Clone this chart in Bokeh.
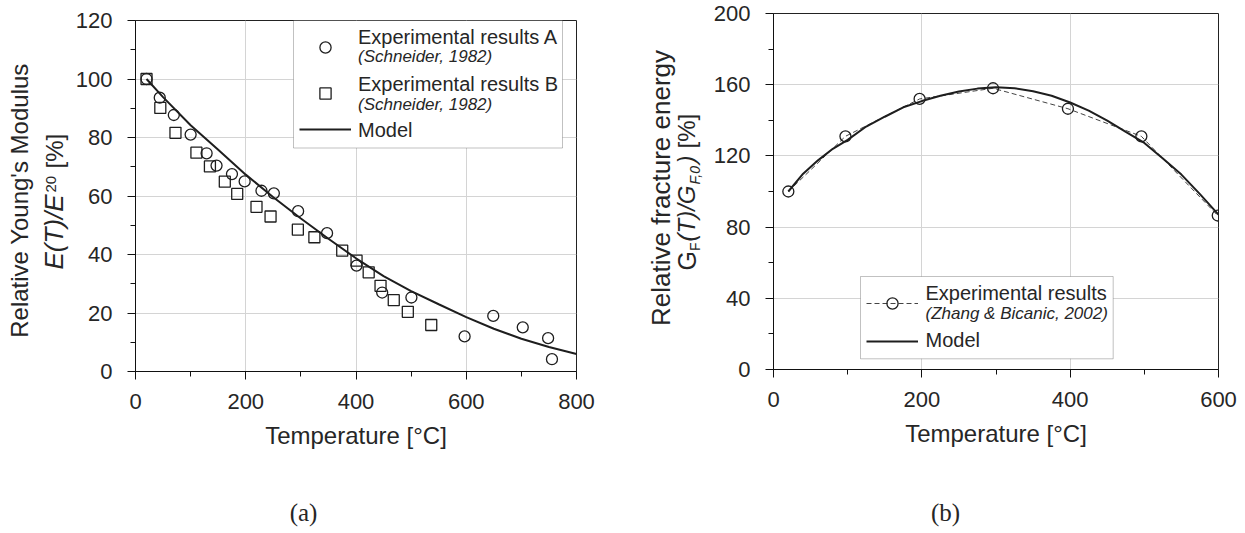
import numpy as np
from bokeh.plotting import figure
from bokeh.layouts import row, column
from bokeh.models import Range1d, FixedTicker, Label, Legend, LegendItem, BoxAnnotation
from bokeh.embed import file_html
from bokeh.resources import INLINE

# ---------------- data: panel (a) ----------------
a_exp_A_T = [20, 44, 69.5, 100, 129, 147, 175, 198, 228.5, 251, 295, 347.5, 401, 447.5, 500.5, 597, 649, 702.5, 748.5, 755.5]
a_exp_A_E = [100, 93.6, 87.7, 81.0, 74.6, 70.4, 67.5, 65.0, 61.8, 60.9, 54.8, 47.3, 36.2, 27.0, 25.3, 12.0, 19.0, 15.1, 11.4, 4.2]
a_exp_B_T = [20, 45, 72.5, 110.5, 135, 162, 184.5, 219.5, 245, 294.5, 324.5, 375, 401, 423, 444.5, 468.5, 494, 536.5]
a_exp_B_E = [100, 90.1, 81.6, 74.8, 70.1, 64.9, 60.7, 56.3, 53.0, 48.5, 45.9, 41.3, 37.9, 33.9, 29.3, 24.4, 20.4, 15.9]
a_model_T = [20, 50, 100, 150, 200, 250, 300, 350, 400, 450, 500, 550, 600, 650, 700, 750, 800]
a_model_E = [100, 93.8, 84.2, 75.8, 67.3, 59.6, 52.3, 45.4, 38.7, 32.6, 27.5, 23.0, 18.6, 14.6, 11.2, 8.4, 6.0]
a_xticks = [0, 200, 400, 600, 800]
a_xminor = [100, 300, 500, 700]
a_yticks = [0, 20, 40, 60, 80, 100, 120]
a_yminor = [10, 30, 50, 70, 90, 110]

# ---------------- data: panel (b) ----------------
b_exp_T = [20, 97, 197, 296, 397, 496, 599]
b_exp_G = [100, 131, 152, 158, 146.5, 131, 86.5]
b_model_T = [20, 40, 60, 80, 100, 125, 150, 175, 200, 225, 250, 275, 300, 325, 350,
             375, 400, 425, 450, 475, 500, 525, 550, 575, 600]
b_model_G = [100, 110.0, 117.5, 124.0, 129.0, 136.5, 142.0, 147.3, 150.8, 153.8, 156.2, 157.8, 158.5, 158.0, 156.3,
             153.8, 150.0, 145.4, 139.8, 133.5, 127.3, 118.5, 109.5, 98.5, 87.0]
b_xticks = [0, 200, 400, 600]
b_xminor = [100, 300, 500]
b_yticks = [0, 40, 80, 120, 160, 200]
b_yminor = [20, 60, 100, 140, 180]

FONT = "Liberation Sans"
TXT = "#262626"
LINE = "#1e1e1e"

H = 533          # page height
TOP_H = 480      # height of the plot row (captions below)
CAP_H = H - TOP_H

# panel (a): y-title holder width, plot width, borders
A_YW, A_PW, A_L, A_R, A_T = 72, 568, 63, 64, 20
# panel (b)
B_X0 = 640
B_YW, B_PW, B_L, B_R, B_T = 68, 537, 65, 27, 13
A_FB = 371   # frame bottom (page y) of (a)
B_FB = 369   # frame bottom (page y) of (b)
BASE = 0.42  # empirical baseline correction (fraction of font size)
GH = 28      # legend glyph box height


def make_fig(w, l, r, t, fb, xr, yr, xt, xm, yt, ym):
    p = figure(width=w, height=TOP_H, x_range=Range1d(*xr), y_range=Range1d(*yr),
               output_backend="svg", toolbar_location=None,
               min_border_left=l, min_border_right=r, min_border_top=t,
               min_border_bottom=TOP_H - fb)
    p.background_fill_color = "white"
    p.border_fill_color = "white"
    p.outline_line_color = "#222222"
    p.outline_line_width = 1
    p.xaxis.ticker = FixedTicker(ticks=xt, minor_ticks=xm)
    p.yaxis.ticker = FixedTicker(ticks=yt, minor_ticks=ym)
    for ax in (p.xaxis, p.yaxis):
        ax.axis_line_color = "#111111"
        ax.major_tick_line_color = "#111111"
        ax.minor_tick_line_color = "#111111"
        ax.major_tick_out = 8
        ax.major_tick_in = 0
        ax.minor_tick_out = 5
        ax.minor_tick_in = 0
        ax.major_label_text_font = FONT
        ax.major_label_text_font_size = "22px"
        ax.major_label_text_color = TXT
    p.xaxis.major_label_standoff = 14
    p.yaxis.major_label_standoff = 15
    p.xaxis.axis_label = "Temperature [°C]"
    p.xaxis.axis_label_text_font = FONT
    p.xaxis.axis_label_text_font_size = "24px"
    p.xaxis.axis_label_text_font_style = "normal"
    p.xaxis.axis_label_text_color = TXT
    p.xaxis.axis_label_standoff = 10
    p.xgrid.ticker = FixedTicker(ticks=xt)
    p.ygrid.ticker = FixedTicker(ticks=yt)
    p.grid.grid_line_color = "#d4d4d4"
    p.grid.grid_line_width = 1
    return p


def holder(w, h):
    f = figure(width=w, height=h, x_range=Range1d(0, 1), y_range=Range1d(0, 1),
               x_axis_type=None, y_axis_type=None, output_backend="svg",
               toolbar_location=None, min_border=0, min_border_left=0, min_border_right=0,
               min_border_top=0, min_border_bottom=0)
    f.outline_line_color = None
    f.background_fill_color = "white"
    f.border_fill_color = "white"
    return f


def lab(p, fx, fb, px, py, text, size, style="normal", align="left", rotated=False, font=FONT):
    """Label placed by page pixel position of its baseline; fx = frame left, fb = frame bottom."""
    c = BASE * size
    if rotated:
        x, y, ang = px - fx - c, fb - py, np.pi / 2
    else:
        x, y, ang = px - fx, fb - py + c, 0.0
    p.add_layout(Label(x=x, y=y, x_units="screen", y_units="screen", text=text,
                       text_font=font, text_font_size=f"{size}px", text_font_style=style,
                       text_color=TXT, text_align=align, text_baseline="alphabetic",
                       angle=ang))


def leg(p, fx, fb, px_start, py_center, renderers, gw=52):
    L = Legend(items=[LegendItem(label=" ", renderers=renderers)],
               location=(px_start - fx, fb - py_center - GH / 2), padding=0, margin=0, spacing=0,
               glyph_width=gw, glyph_height=GH, label_height=GH, label_width=1,
               label_standoff=0, label_text_font_size="2px",
               border_line_color=None, background_fill_alpha=0)
    p.add_layout(L)


# ================= panel (a) =================
pa = make_fig(A_PW, A_L, A_R, A_T, A_FB, (0, 800), (0, 120),
              a_xticks, a_xminor, a_yticks, a_yminor)
ra_model = pa.line(a_model_T, a_model_E, line_color=LINE, line_width=2)
ra_A = pa.scatter(a_exp_A_T, a_exp_A_E, marker="circle", size=11, fill_color=None,
                  line_color=LINE, line_width=1.3)
ra_B = pa.scatter(a_exp_B_T, a_exp_B_E, marker="square", size=11, fill_color=None,
                  line_color=LINE, line_width=1.3)

AFX = A_YW + A_L
pa.add_layout(BoxAnnotation(left=293 - AFX, right=562 - AFX, top=A_FB - 20, bottom=A_FB - 147.5,
                            left_units="screen", right_units="screen",
                            top_units="screen", bottom_units="screen",
                            fill_color="white", fill_alpha=1.0,
                            line_color="#333333", line_width=1))
leg(pa, AFX, A_FB, 299, 46.7, [ra_A])
leg(pa, AFX, A_FB, 299, 93.3, [ra_B])
leg(pa, AFX, A_FB, 299, 129.3, [ra_model])
lab(pa, AFX, A_FB, 357.5, 45, "Experimental results A", 20)
lab(pa, AFX, A_FB, 357.5, 63.3, "(Schneider, 1982)", 17, "italic")
lab(pa, AFX, A_FB, 357.5, 91.7, "Experimental results B", 20)
lab(pa, AFX, A_FB, 357.5, 111.5, "(Schneider, 1982)", 17, "italic")
lab(pa, AFX, A_FB, 357.5, 138, "Model", 20)

# y-axis title (a): holder frame is aligned with the plot frame (page y 20..371)
ya = holder(A_YW, TOP_H)
lab(ya, 0, A_FB, 28.7, 200, "Relative Young's Modulus", 24, align="center", rotated=True)
lab(ya, 0, A_FB, 64.5, 269, "E(T)/E", 26, "italic", rotated=True)
lab(ya, 0, A_FB, 56.5, 192, "20", 15, rotated=True)
lab(ya, 0, A_FB, 64.5, 168, "[%]", 24, rotated=True)

# caption (a)
ca = holder(A_YW + A_PW, CAP_H)
lab(ca, 0, H, 303, 522, "(a)", 25, align="center", font="Liberation Serif")

# ================= panel (b) =================
pb = make_fig(B_PW, B_L, B_R, B_T, B_FB, (0, 600), (0, 200),
              b_xticks, b_xminor, b_yticks, b_yminor)
rb_dash = pb.line(b_exp_T, b_exp_G, line_color="#444444", line_width=1, line_dash="5 3")
rb_model = pb.line(b_model_T, b_model_G, line_color=LINE, line_width=2)
rb_exp = pb.scatter(b_exp_T, b_exp_G, marker="circle", size=11, fill_color=None,
                    line_color=LINE, line_width=1.3)

BFX = B_X0 + B_YW + B_L
pb.add_layout(BoxAnnotation(left=860 - BFX, right=1112.7 - BFX, top=B_FB - 276, bottom=B_FB - 358.3,
                            left_units="screen", right_units="screen",
                            top_units="screen", bottom_units="screen",
                            fill_color="white", fill_alpha=1.0,
                            line_color="#333333", line_width=1))
leg(pb, BFX, B_FB, 866, 303.3, [rb_dash, rb_exp])
leg(pb, BFX, B_FB, 866, 340.7, [rb_model])
lab(pb, BFX, B_FB, 925, 300.7, "Experimental results", 20)
lab(pb, BFX, B_FB, 925, 319.7, "(Zhang & Bicanic, 2002)", 17, "italic")
lab(pb, BFX, B_FB, 925, 348, "Model", 20)

# y-axis title (b): holder frame aligned with plot frame (page y 13..369)
yb = holder(B_YW, TOP_H)
lab(yb, B_X0, B_FB, 671.7, 187.5, "Relative fracture energy", 26, align="center", rotated=True)
lab(yb, B_X0, B_FB, 696.5, 270, "G", 25, rotated=True)
lab(yb, B_X0, B_FB, 700.5, 250.5, "F", 14, rotated=True)
lab(yb, B_X0, B_FB, 696.5, 241, "(T)/G", 24, "italic", rotated=True)
lab(yb, B_X0, B_FB, 700.5, 184, "F,0", 14, "italic", rotated=True)
lab(yb, B_X0, B_FB, 696.5, 163, ")", 24, "italic", rotated=True)
lab(yb, B_X0, B_FB, 696.5, 148, "[%]", 24, rotated=True)

# caption (b)
cb = holder(B_YW + B_PW, CAP_H)
lab(cb, B_X0, H, 945, 522, "(b)", 25, align="center", font="Liberation Serif")

layout = row(column(row(ya, pa), ca), column(row(yb, pb), cb))
open("out.html", "w").write(file_html(layout, INLINE))
